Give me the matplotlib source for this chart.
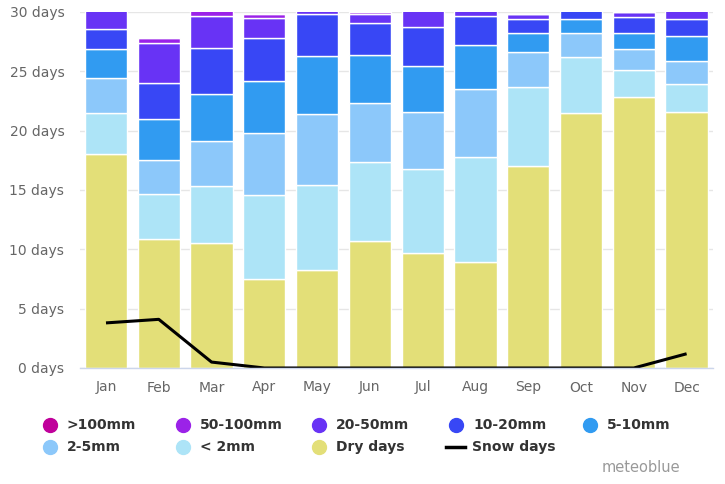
import matplotlib
matplotlib.use("Agg")
import matplotlib.pyplot as plt
from matplotlib.lines import Line2D
import numpy as np

months = ["Jan", "Feb", "Mar", "Apr", "May", "Jun", "Jul", "Aug", "Sep", "Oct", "Nov", "Dec"]
dry_days = [18.0, 10.9, 10.5, 7.5, 8.3, 10.7, 9.7, 8.9, 17.0, 21.5, 22.8, 21.6]
lt2mm = [3.5, 3.8, 4.8, 7.1, 7.1, 6.7, 7.1, 8.9, 6.65, 4.7, 2.3, 2.35]
mm2_5 = [2.9, 2.85, 3.8, 5.2, 6.0, 4.9, 4.8, 5.7, 2.95, 2.0, 1.8, 1.95]
mm5_10 = [2.5, 3.4, 4.0, 4.4, 4.9, 4.1, 3.85, 3.7, 1.6, 1.25, 1.3, 2.05]
mm10_20 = [1.7, 3.1, 3.9, 3.65, 3.5, 2.65, 3.25, 2.45, 1.25, 1.0, 1.35, 1.5]
mm20_50 = [2.4, 3.3, 2.7, 1.65, 1.2, 0.8, 2.3, 1.35, 0.35, 0.55, 0.45, 1.55]
mm50_100 = [0.0, 0.5, 1.3, 0.3, 0.0, 0.15, 0.0, 0.0, 0.0, 0.0, 0.0, 0.0]
gt100mm = [0.0, 0.0, 0.0, 0.0, 0.0, 0.0, 0.0, 0.0, 0.0, 0.0, 0.0, 0.0]
snow_days = [3.8, 4.1, 0.5, 0.0, 0.0, 0.0, 0.0, 0.0, 0.0, 0.0, 0.0, 1.2]
y_ticks = [0, 5, 10, 15, 20, 25, 30]

series = [
    ("Dry days", dry_days, "#e3df78"),
    ("< 2mm", lt2mm, "#ade4f7"),
    ("2-5mm", mm2_5, "#8cc8fa"),
    ("5-10mm", mm5_10, "#319bf1"),
    ("10-20mm", mm10_20, "#3847f5"),
    ("20-50mm", mm20_50, "#6833f5"),
    ("50-100mm", mm50_100, "#9b22e8"),
    (">100mm", gt100mm, "#c0009b"),
]
colors = {name: c for name, _, c in series}

fig = plt.figure(figsize=(7.25, 4.84), dpi=100)
ax = fig.add_axes([79.6 / 725, 1 - 368 / 484, 633.4 / 725, 356 / 484])

x = np.arange(len(months))
bottom = np.zeros(len(months))
for name, vals, c in series:
    v = np.array(vals)
    ax.bar(x, v, bottom=bottom, width=0.8, color=c, edgecolor="white", linewidth=1.0, zorder=2)
    bottom += v

ax.plot(x, snow_days, color="black", linewidth=2.2, zorder=4, solid_capstyle="butt")

ax.set_xlim(-0.5, 11.5)
ax.set_ylim(0, 30)
ax.set_yticks(y_ticks)
ax.set_yticklabels([f"{t} days" for t in y_ticks])
ax.set_xticks(x)
ax.set_xticklabels(months)
ax.tick_params(axis="y", length=0, pad=11, labelsize=10, labelcolor="#666666")
ax.tick_params(axis="x", length=0, pad=9, labelsize=10, labelcolor="#666666")
ax.grid(axis="y", color="#e6e6e6", linewidth=1, zorder=0)
ax.set_axisbelow(True)
for s in ["top", "right", "left"]:
    ax.spines[s].set_visible(False)
ax.spines["bottom"].set_color("#ccd6eb")
ax.spines["bottom"].set_linewidth(1)
ax.spines["bottom"].set_zorder(5)

# legend
row1 = [(">100mm", 50), ("50-100mm", 183), ("20-50mm", 319), ("10-20mm", 456), ("5-10mm", 590)]
row2 = [("2-5mm", 50), ("< 2mm", 183), ("Dry days", 319)]
for items, ypx in [(row1, 425), (row2, 447)]:
    yf = 1 - ypx / 484
    for name, mx in items:
        fig.add_artist(Line2D([mx / 725], [yf], marker="o", markersize=10, color=colors[name],
                              linestyle="none", transform=fig.transFigure))
        fig.text((mx + 17) / 725, yf, name, fontsize=10, fontweight="bold", color="#333333",
                 va="center", ha="left")
yf = 1 - 447 / 484
fig.add_artist(Line2D([446 / 725, 465 / 725], [yf, yf], color="black", linewidth=2.5,
                      transform=fig.transFigure))
fig.text(472 / 725, yf, "Snow days", fontsize=10, fontweight="bold", color="#333333",
         va="center", ha="left")

fig.text(680 / 725, 1 - 467 / 484, "meteoblue", fontsize=10.5, color="#999999", ha="right", va="center")

fig.savefig("out.png", dpi=100)
